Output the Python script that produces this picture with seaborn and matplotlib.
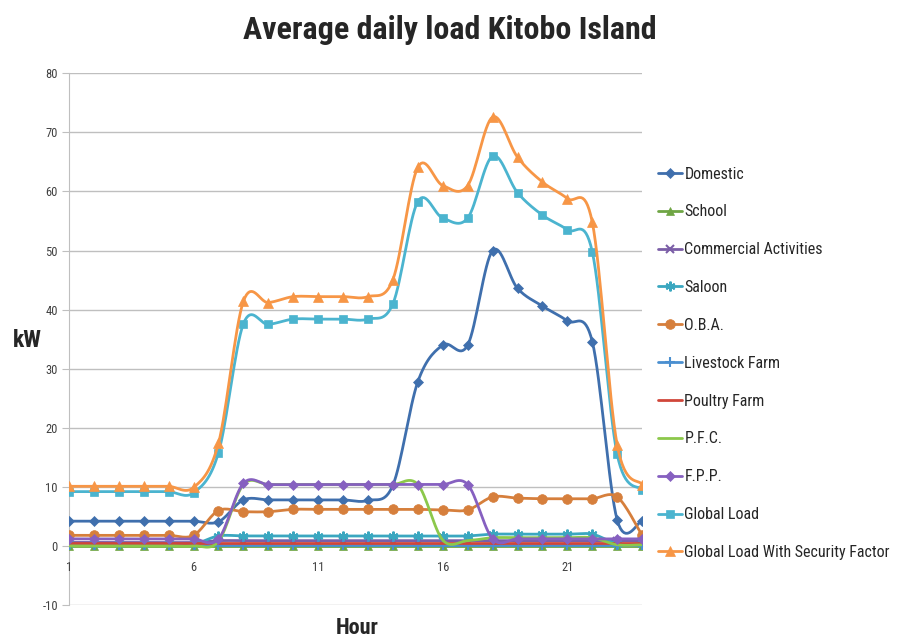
import numpy as np
import pandas as pd
import matplotlib
matplotlib.use("Agg")
import matplotlib.pyplot as plt
from matplotlib.lines import Line2D
import seaborn as sns

hours = list(range(1, 25))

domestic = [4.2, 4.2, 4.2, 4.2, 4.2, 4.2, 4.1, 7.8, 7.8, 7.8, 7.8, 7.8, 7.7, 10.3,
            27.8, 34.0, 34.0, 50.0, 43.6, 40.6, 38.1, 34.6, 4.4, 4.3]
school = [0.0] * 24
commercial = [0.6] * 6 + [0.9] * 18
saloon = [0.3] * 6 + [1.7] * 11 + [2.0] * 5 + [0.4, 0.4]
oba = [1.8] * 6 + [6.0, 5.8, 5.8, 6.2, 6.2, 6.2, 6.2, 6.2, 6.2, 6.1, 6.1,
                   8.3, 8.1, 8.0, 8.0, 8.0, 8.3, 1.8]
livestock = [0.15] * 24
poultry = [0.45] * 24
pfc = [0.0] * 6 + [0.8] + [10.4] * 8 + [1.0, 0.9, 1.4, 1.4, 1.4, 1.4, 1.4, 0.2, 0.2]
fpp = [1.2] * 7 + [10.6] + [10.4] * 9 + [1.2] * 7
global_load = [9.2, 9.2, 9.2, 9.2, 9.2, 9.0, 15.8, 37.6, 37.5, 38.4, 38.4, 38.4, 38.4, 41.0,
               58.3, 55.5, 55.5, 66.0, 59.8, 56.0, 53.5, 49.8, 15.5, 9.5]
global_sf = [10.1, 10.1, 10.1, 10.1, 10.1, 9.9, 17.4, 41.4, 41.2, 42.2, 42.2, 42.2, 42.2, 45.1,
             64.1, 61.0, 61.0, 72.6, 65.8, 61.6, 58.8, 54.8, 17.1, 10.4]

series = ["Domestic", "School", "Commercial Activities", "Saloon", "O.B.A.",
          "Livestock Farm", "Poultry Farm", "P.F.C.", "F.P.P.", "Global Load",
          "Global Load With Security Factor"]
values = [domestic, school, commercial, saloon, oba, livestock, poultry, pfc, fpp,
          global_load, global_sf]
colors = ["#3F6FAD", "#6FA544", "#7B5EA7", "#3AA7C0", "#D67F3C", "#4A8FD0",
          "#D0463A", "#8CC84B", "#8660C0", "#4BB4CF", "#F79646"]
markers = ["D", "^", "x", (6, 2, 0), "o", "+", None, None, "D", "s", "^"]
msizes = [5, 6, 6, 7, 7, 7, 0, 0, 5, 6, 7]
thin = ("x", "+", (6, 2, 0))


def smooth(x, y, n=16):
    # catmull-rom, like excel's "smoothed line"
    x = np.asarray(x, float)
    y = np.asarray(y, float)
    px = np.r_[x[0], x, x[-1]]
    py = np.r_[y[0], y, y[-1]]
    t = np.linspace(0, 1, n, endpoint=False)
    xs, ys = [], []
    for i in range(1, len(x)):
        for p, out in ((px, xs), (py, ys)):
            p0, p1, p2, p3 = p[i - 1], p[i], p[i + 1], p[i + 2]
            out.extend(0.5 * (2 * p1 + (-p0 + p2) * t
                              + (2 * p0 - 5 * p1 + 4 * p2 - p3) * t ** 2
                              + (-p0 + 3 * p1 - 3 * p2 + p3) * t ** 3))
    xs.append(x[-1])
    ys.append(y[-1])
    return np.array(xs), np.array(ys)


sns.set_style("white")
plt.rcParams["font.family"] = ["Roboto Condensed", "Roboto", "DejaVu Sans"]
plt.rcParams["axes.unicode_minus"] = False

fig = plt.figure(figsize=(9.04, 6.43), dpi=100)
ax = fig.add_axes([0.0763, 0.059, 0.634, 0.827])

for name, vals, c, m, ms in zip(series, values, colors, markers, msizes):
    xs, ys = smooth(hours, vals)
    sns.lineplot(x=xs, y=ys, color=c, lw=2.0, sort=False, estimator=None, ax=ax)
    if m is not None:
        df = pd.DataFrame({"Hour": hours, "kW": vals})
        ax.plot(df["Hour"], df["kW"], ls="none", marker=m, ms=ms, color=c,
                mew=1.5 if m in thin else 0.5, mec=c)

ax.set_xlim(1, 24)
ax.set_ylim(-10, 80)
ax.set_yticks(range(-10, 81, 10))
ax.set_xticks([1, 6, 11, 16, 21])
ax.yaxis.grid(True, color="#BFBFBF", lw=1)
ax.xaxis.grid(False)
for s in ("top", "right"):
    ax.spines[s].set_visible(False)
ax.spines["bottom"].set_position(("data", 0))
ax.spines["bottom"].set_color("#BFBFBF")
ax.spines["left"].set_color("#BFBFBF")
ax.spines["left"].set_zorder(0.3)
ax.spines["bottom"].set_zorder(0.3)
ax.tick_params(axis="x", length=0, pad=11, labelsize=9, labelcolor="#404040")
ax.tick_params(axis="y", length=5, color="#BFBFBF", left=True, pad=3,
               labelsize=9, labelcolor="#404040")
ax.set_xlabel("")
ax.set_ylabel("")

fig.text(0.498, 0.953, "Average daily load Kitobo Island", ha="center", va="center",
         fontsize=23, fontweight="bold")
fig.text(0.03, 0.471, "kW", ha="center", va="center", fontsize=17, fontweight="bold")
fig.text(0.395, 0.023, "Hour", ha="center", va="center", fontsize=16, fontweight="bold")

handles = [Line2D([], [], color=c, lw=2, marker=m if m is not None else "",
                  ms=ms, mew=1.5 if m in thin else 0.5, mec=c)
           for c, m, ms in zip(colors, markers, msizes)]
fig.legend(handles, series, loc="upper left", bbox_to_anchor=(0.728, 0.741),
           frameon=False, fontsize=11.5, labelspacing=1.43, handlelength=1.5,
           handletextpad=0.15, borderpad=0, borderaxespad=0)

fig.savefig("out.png", dpi=100)
